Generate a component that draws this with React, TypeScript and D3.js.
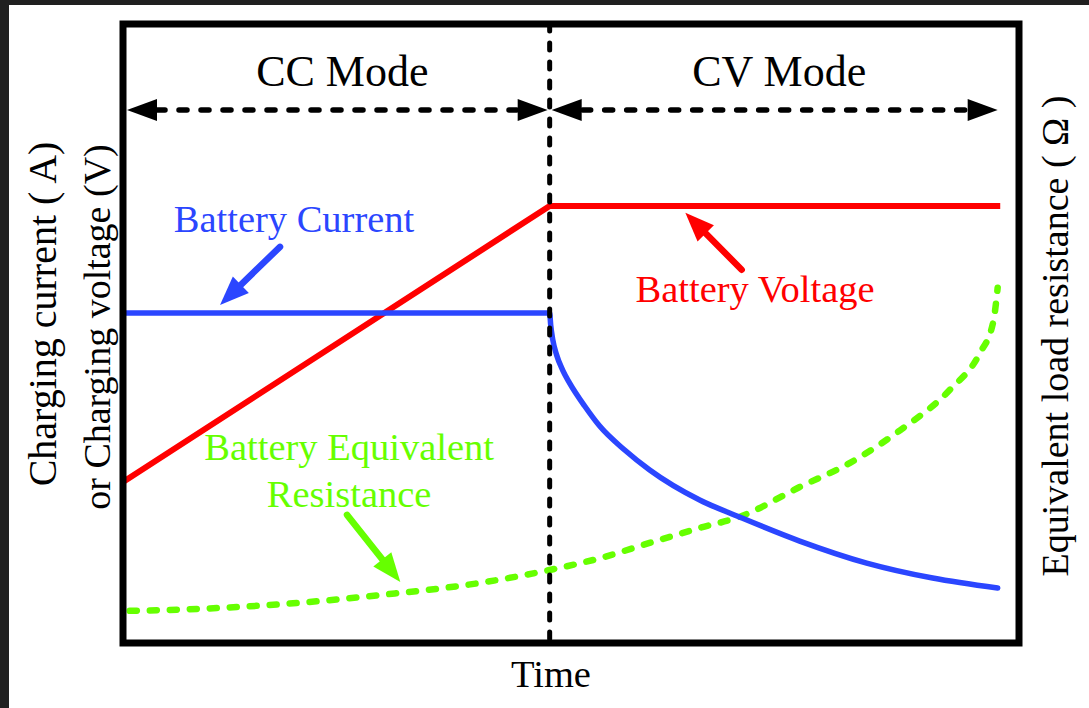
import * as d3 from 'd3';

// time axis (arbitrary units), switch CC -> CV at t = 50
const T_SWITCH = 50;
const voltageT = [0, 50, 102.8];
const voltageV = [26, 70.6, 70.6];
const currentT = [0, 50, 50.12, 50.35, 50.82, 51.52, 52.34, 54.1, 55.86, 58.79, 61.72, 67.58, 72.27, 79.3, 87.15, 94.88, 102.5];
const currentA = [53.3, 53.3, 51.36, 49.1, 46.51, 44.09, 41.99, 38.28, 35.04, 31.17, 27.94, 23.09, 20.34, 16.47, 12.91, 10.49, 8.87];
const resistT = [0.8, 6.7, 20.7, 30.1, 41.8, 50, 55.9, 61.8, 67.6, 72.3, 79.3, 85.2, 91.1, 96.9, 100.4, 102, 102.5];
const resistR = [5.2, 5.4, 6.5, 7.75, 9.7, 11.8, 13.7, 16.2, 18.6, 20.4, 25.2, 29.1, 34.4, 40.9, 46.8, 52, 57.4];

const modeLabels = ['CC Mode', 'CV Mode'];
const modeLabelT = [25.7, 76.9];

const BLUE = '#2b46ff', RED = '#ff0000', GREEN = '#66ff00';
const FONT = '"Liberation Serif", "Times New Roman", serif';
const W = 1089, H = 708;
const M = { left: 123, right: 1019, top: 24, bottom: 643 };

const x = d3.scaleLinear().domain([0, 105]).range([M.left, M.right]);
const y = d3.scaleLinear().domain([0, 100]).range([M.bottom, M.top]);
const yR = d3.scaleLinear().domain([0, 100]).range([M.bottom, M.top]);

function head(x1: number, y1: number, x2: number, y2: number, len: number, half: number) {
  const a = Math.atan2(y2 - y1, x2 - x1);
  const bx = x2 - len * Math.cos(a), by = y2 - len * Math.sin(a);
  const px = -Math.sin(a) * half, py = Math.cos(a) * half;
  return `${x2},${y2} ${bx + px},${by + py} ${bx - px},${by - py}`;
}

function Arrow({ t1, v1, t2, v2, color }: { t1: number; v1: number; t2: number; v2: number; color: string }) {
  const x1 = x(t1), y1 = y(v1), x2 = x(t2), y2 = y(v2);
  const a = Math.atan2(y2 - y1, x2 - x1);
  return (
    <g>
      <line x1={x1} y1={y1} x2={x2 - 20 * Math.cos(a)} y2={y2 - 20 * Math.sin(a)} stroke={color} strokeWidth={6.5} strokeLinecap="round" />
      <polygon points={head(x1, y1, x2, y2, 29, 11.5)} fill={color} />
    </g>
  );
}

export default function App() {
  const mk = (sy: d3.ScaleLinear<number, number>, c: d3.CurveFactory) =>
    d3.line<[number, number]>().x(d => x(d[0])).y(d => sy(d[1])).curve(c);
  const voltage = mk(y, d3.curveLinear)(voltageT.map((t, i) => [t, voltageV[i]]))!;
  const current = mk(y, d3.curveMonotoneX)(currentT.map((t, i) => [t, currentA[i]]))!;
  const resist = mk(yR, d3.curveMonotoneX)(resistT.map((t, i) => [t, resistR[i]]))!;
  const xs = x(T_SWITCH);
  const ya = y(86.1);

  return (
    <div style={{ position: 'absolute', left: 0, top: 0 }}>
      <svg width={W} height={H} style={{ display: 'block', fontFamily: FONT }}>
        <rect width={W} height={H} fill="#202020" />
        <rect x={9} y={5} width={W - 9} height={H - 5} fill="#ffffff" />

        <path d={resist} fill="none" stroke={GREEN} strokeWidth={6.5} strokeDasharray="7 13" strokeLinecap="round" />
        <path d={voltage} fill="none" stroke={RED} strokeWidth={6} />
        <path d={current} fill="none" stroke={BLUE} strokeWidth={5.5} strokeLinecap="round" />

        {/* mode divider */}
        <line x1={xs} y1={M.top} x2={xs} y2={M.bottom} stroke="#000" strokeWidth={5} strokeDasharray="7 12" strokeLinecap="round" />

        {/* mode arrows */}
        <line x1={M.left + 34} y1={ya} x2={xs - 33} y2={ya} stroke="#000" strokeWidth={5.5} strokeDasharray="8 14" strokeLinecap="round" />
        <line x1={xs + 33} y1={ya} x2={x(102.5) - 33} y2={ya} stroke="#000" strokeWidth={5.5} strokeDasharray="8 14" strokeLinecap="round" />
        <polygon points={head(xs, ya, M.left + 4, ya, 30, 11)} fill="#000" />
        <polygon points={head(M.left, ya, xs - 2, ya, 30, 11)} fill="#000" />
        <polygon points={head(M.right, ya, xs + 2, ya, 30, 11)} fill="#000" />
        <polygon points={head(xs, ya, x(102.5), ya, 30, 11)} fill="#000" />

        {modeLabels.map((l, i) => (
          <text key={l} x={x(modeLabelT[i])} y={y(90)} fontSize={44} textAnchor="middle" fill="#000">{l}</text>
        ))}

        {/* frame */}
        <rect x={M.left} y={M.top} width={M.right - M.left} height={M.bottom - M.top} fill="none" stroke="#000" strokeWidth={7} />

        {/* annotations */}
        <text x={x(20.04)} y={y(66.4)} fontSize={38.5} textAnchor="middle" fill={BLUE}>Battery Current</text>
        <Arrow t1={18.4} v1={64.0} t2={11.37} v2={54.6} color={BLUE} />
        <text x={x(74.07)} y={y(55.1)} fontSize={38.5} textAnchor="middle" fill={RED}>Battery Voltage</text>
        <Arrow t1={72.5} v1={60.3} t2={65.9} v2={69.5} color={RED} />
        <text x={x(26.5)} y={y(29.6)} fontSize={38.5} textAnchor="middle" fill={GREEN}>Battery Equivalent</text>
        <text x={x(26.5)} y={y(22.0)} fontSize={38.5} textAnchor="middle" fill={GREEN}>Resistance</text>
        <Arrow t1={26.25} v1={20.7} t2={32.5} v2={9.85} color={GREEN} />

        {/* axis titles */}
        <text x={551} y={687} fontSize={38.5} textAnchor="middle" fill="#000">Time</text>
        <text transform="translate(56,314) rotate(-90)" fontSize={40} textAnchor="middle" fill="#000">Charging current ( A)</text>
        <text transform="translate(110,327) rotate(-90)" fontSize={38} textAnchor="middle" fill="#000">or Charging voltage (V)</text>
        <text transform="translate(1068,336) rotate(-90)" fontSize={38} textAnchor="middle" fill="#000">Equivalent load resistance ( Ω )</text>
      </svg>
    </div>
  );
}
